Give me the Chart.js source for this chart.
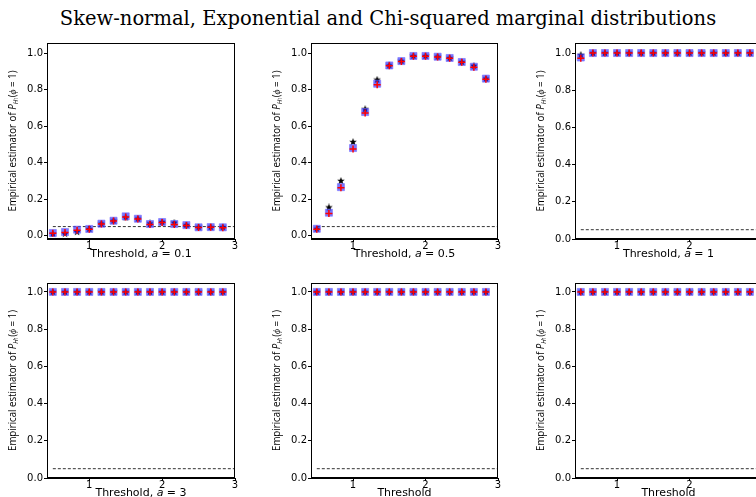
<!DOCTYPE html>
<html>
<head>
<meta charset="utf-8">
<script src="https://cdn.jsdelivr.net/npm/chart.js@4.4.1/dist/chart.umd.min.js"></script>
<style>
  html, body { margin: 0; padding: 0; background: #fff; overflow: hidden; width: 756px; height: 497px; }
  #title { position: absolute; left: 0; width: 776px; top: 7px; text-align: center;
           font-family: "DejaVu Serif", serif; font-size: 19.5px; color: #000; white-space: nowrap; }
  canvas { position: absolute; }
</style>
</head>
<body>
<div id="title">Skew-normal, Exponential and Chi-squared marginal distributions</div>
<canvas id="p1"></canvas>
<canvas id="p2"></canvas>
<canvas id="p3"></canvas>
<canvas id="p4"></canvas>
<canvas id="p5"></canvas>
<canvas id="p6"></canvas>
<script>
/* six panels: empirical rejection rate vs threshold */

const thresholds = [0.5, 0.667, 0.833, 1.0, 1.167, 1.333, 1.5, 1.667, 1.833, 2.0, 2.167, 2.333, 2.5, 2.667, 2.833];
const xTicks = [1, 2, 3];
const yTicks = [0, 0.2, 0.4, 0.6, 0.8, 1.0];
const levelX = [0.5, 3.0];
const levelY = [0.05, 0.05];

// a = 0.1
const blackA01 = [0.010, 0.011, 0.020, 0.037, 0.066, 0.082, 0.100, 0.093, 0.067, 0.075, 0.071, 0.058, 0.046, 0.047, 0.046];
const blueA01  = [0.015, 0.020, 0.033, 0.037, 0.066, 0.082, 0.106, 0.093, 0.064, 0.075, 0.064, 0.058, 0.046, 0.047, 0.046];
const redA01   = [0.013, 0.018, 0.030, 0.035, 0.064, 0.080, 0.103, 0.091, 0.062, 0.073, 0.062, 0.056, 0.045, 0.046, 0.044];
// a = 0.5
const blackA05 = [0.038, 0.155, 0.300, 0.513, 0.693, 0.854, 0.932, 0.956, 0.984, 0.984, 0.980, 0.973, 0.951, 0.930, 0.860];
const blueA05  = [0.038, 0.126, 0.266, 0.480, 0.677, 0.832, 0.932, 0.956, 0.984, 0.984, 0.980, 0.973, 0.951, 0.925, 0.860];
const redA05   = [0.035, 0.122, 0.262, 0.475, 0.672, 0.826, 0.930, 0.954, 0.982, 0.982, 0.978, 0.971, 0.949, 0.922, 0.857];
// a = 1
const blackA1  = [0.990, 1, 1, 1, 1, 1, 1, 1, 1, 1, 1, 1, 1, 1, 1];
const blueA1   = [0.976, 1, 1, 1, 1, 1, 1, 1, 1, 1, 1, 1, 1, 1, 1];
const redA1    = [0.972, 1, 1, 1, 1, 1, 1, 1, 1, 1, 1, 1, 1, 1, 1];
// a = 3, Exponential, Chi-squared
const fullPower = [1, 1, 1, 1, 1, 1, 1, 1, 1, 1, 1, 1, 1, 1, 1];

const AXIS_W = 45, AXIS_H = 20, PAD_T = 8, PAD_R = 8;

function xt(a) {
  if (a === null) return [{ t: 'Threshold', f: '11px "DejaVu Sans"' }];
  return [
    { t: 'Threshold, ', f: '11px "DejaVu Sans"' },
    { t: 'a', f: 'italic 11px "DejaVu Sans"' },
    { t: ' = ' + a, f: '11px "DejaVu Sans"' }
  ];
}

const Y_TITLE = [
  { t: 'Empirical estimator of ', f: '10.5px "Open Sans"' },
  { t: 'P', f: 'italic 10.5px "Open Sans"' },
  { t: 'H', f: 'italic 7px "Open Sans"', dy: 2.5 },
  { t: '1', f: '5px "Open Sans"', dy: 3.5 },
  { t: '(', f: '10.5px "Open Sans"' },
  { t: 'ϕ', f: 'italic 10.5px "Open Sans"' },
  { t: ' = 1)', f: '10.5px "Open Sans"' }
];

const panels = [
  { id: 'p1', left: 47,  top: 43,  w: 188, h: 196, yMin: -0.018, yMax: 1.055, title: xt('0.1'), s: [blackA01, blueA01, redA01] },
  { id: 'p2', left: 311, top: 43,  w: 187, h: 196, yMin: -0.018, yMax: 1.055, title: xt('0.5'), s: [blackA05, blueA05, redA05] },
  { id: 'p3', left: 575, top: 43,  w: 187, h: 196, yMin: 0,      yMax: 1.054, title: xt('1'),   s: [blackA1, blueA1, redA1] },
  { id: 'p4', left: 47,  top: 283, w: 188, h: 195, yMin: 0,      yMax: 1.048, title: xt('3'),   s: [fullPower, fullPower, fullPower] },
  { id: 'p5', left: 311, top: 283, w: 187, h: 195, yMin: 0,      yMax: 1.048, title: xt(null),  s: [fullPower, fullPower, fullPower] },
  { id: 'p6', left: 575, top: 283, w: 187, h: 195, yMin: 0,      yMax: 1.048, title: xt(null),  s: [fullPower, fullPower, fullPower] }
];

function starImage(size, color) {
  const c = document.createElement('canvas');
  c.width = c.height = size;
  const g = c.getContext('2d');
  g.fillStyle = color;
  g.beginPath();
  for (let i = 0; i < 10; i++) {
    const r = i % 2 ? size * 0.21 : size * 0.5;
    const ang = -Math.PI / 2 + i * Math.PI / 5;
    g.lineTo(size / 2 + r * Math.cos(ang), size / 2 + r * Math.sin(ang));
  }
  g.closePath();
  g.fill();
  return c;
}
const blackStar = starImage(8, '#000');

function drawRich(ctx, segs, cx, cy, target) {
  let total = 0;
  const widths = segs.map(s => { ctx.font = s.f; const w = ctx.measureText(s.t).width; total += w; return w; });
  ctx.save();
  ctx.translate(cx, cy);
  if (target) ctx.scale(target / total, 1);
  let x = -total / 2;
  ctx.textBaseline = 'middle';
  ctx.textAlign = 'left';
  ctx.fillStyle = '#000';
  segs.forEach((s, i) => {
    ctx.font = s.f;
    ctx.fillText(s.t, x, s.dy || 0);
    x += widths[i];
  });
  ctx.restore();
}

const axisText = {
  id: 'axisText',
  afterDraw(chart, args, opts) {
    const { ctx, chartArea: a } = chart;
    ctx.save();
    ctx.strokeStyle = '#000';
    ctx.lineWidth = 1;
    ctx.strokeRect(Math.round(a.left) + 0.5, Math.round(a.top) + 0.5, Math.round(a.right - a.left) - 1, Math.round(a.bottom - a.top) - 1);
    drawRich(ctx, opts.xTitle, (a.left + a.right) / 2, a.bottom + 15);
    ctx.translate(a.left - 34, (a.top + a.bottom) / 2);
    ctx.rotate(-Math.PI / 2);
    drawRich(ctx, Y_TITLE, 0, 0, 141);
    ctx.restore();
  }
};

const tickFont = { family: 'DejaVu Sans', size: 10 };

function makeChart(p) {
  const canvas = document.getElementById(p.id);
  canvas.width = AXIS_W + p.w + PAD_R;
  canvas.height = PAD_T + p.h + AXIS_H;
  canvas.style.left = (p.left - AXIS_W) + 'px';
  canvas.style.top = (p.top - PAD_T) + 'px';

  const pts = arr => thresholds.map((x, i) => ({ x, y: arr[i] }));

  new Chart(canvas, {
    type: 'scatter',
    data: {
      datasets: [
        { data: pts(p.s[0]), pointStyle: blackStar, pointRadius: 4, order: 3, clip: false },
        { data: pts(p.s[1]), pointStyle: 'rect', pointRadius: 5, backgroundColor: 'rgba(30,30,255,0.6)',
          borderColor: 'rgba(120,110,255,0.6)', borderWidth: 1, order: 2, clip: false },
        { data: pts(p.s[2]), pointStyle: 'cross', pointRadius: 3.5, borderColor: '#ff0000', borderWidth: 1.5,
          order: 1, clip: false },
        { data: levelX.map((x, i) => ({ x, y: levelY[i] })), showLine: true, pointRadius: 0,
          borderColor: '#333', borderWidth: 1, borderDash: [3, 2], order: 4 }
      ]
    },
    options: {
      responsive: false,
      animation: false,
      events: [],
      layout: { padding: { top: PAD_T, right: PAD_R, left: 0, bottom: 0 } },
      plugins: { legend: { display: false }, tooltip: { enabled: false }, axisText: { xTitle: p.title } },
      scales: {
        x: {
          type: 'linear', min: 0.42, max: 3.0,
          afterBuildTicks: s => { s.ticks = xTicks.map(v => ({ value: v })); },
          afterFit: s => { s.height = AXIS_H; },
          grid: { drawOnChartArea: false, tickLength: 3, color: '#000' },
          border: { color: '#000' },
          ticks: { color: '#000', font: tickFont, padding: -2, maxRotation: 0, autoSkip: false, callback: v => String(v) }
        },
        y: {
          type: 'linear', min: p.yMin, max: p.yMax,
          afterBuildTicks: s => { s.ticks = yTicks.map(v => ({ value: v })); },
          afterFit: s => { s.width = AXIS_W; },
          grid: { drawOnChartArea: false, tickLength: 3, color: '#000' },
          border: { color: '#000' },
          ticks: { color: '#000', font: tickFont, padding: 1, autoSkip: false, callback: v => v.toFixed(1) }
        }
      }
    },
    plugins: [axisText]
  });
}

panels.forEach(makeChart);
</script>
</body>
</html>
